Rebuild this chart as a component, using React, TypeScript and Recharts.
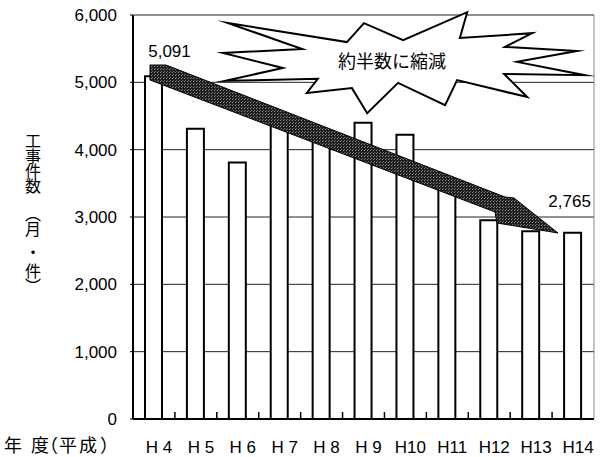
import React from 'react';
import {
  BarChart,
  Bar,
  XAxis,
  YAxis,
  CartesianGrid,
  ReferenceArea,
  LabelList,
} from 'recharts';

// Fiscal years (Heisei era)
const years = ['H 4', 'H 5', 'H 6', 'H 7', 'H 8', 'H 9', 'H10', 'H11', 'H12', 'H13', 'H14'];
// Construction works per month
const works = [5091, 4310, 3810, 4400, 4250, 4400, 4220, 3500, 2950, 2790, 2765];
const yTicks = [0, 1000, 2000, 3000, 4000, 5000, 6000];
// Years whose value is printed above the bar
const labeledYears = ['H 4', 'H14'];
// Vertical axis title, split into the runs it is set in
const yTitleRuns = ['工事件数', '（月', '・', '件）'];
const xTitleChars = ['年', '度', '（', '平', '成', '）'];
const calloutText = '約半数に縮減';

const data = years.map((year, i) => ({ year, works: works[i] }));

const W = 601;
const H = 457;
const MARGIN = { top: 15, right: 7, bottom: 0, left: 0 };
const Y_AXIS_W = 133;
const X_AXIS_H = 38;
const PLOT = {
  x: MARGIN.left + Y_AXIS_W,
  y: MARGIN.top,
  width: W - MARGIN.left - MARGIN.right - Y_AXIS_W,
  height: H - MARGIN.top - MARGIN.bottom - X_AXIS_H,
};

const NUM_FONT = '"Liberation Sans", Arial, Helvetica, sans-serif';
const CJK_FONT = '"Noto Sans CJK JP", "Noto Sans", sans-serif';

// Callout outline, as fractions of the plot area (x, y)
const BURST: [number, number][] = [
  [0.206, 0.02], [0.464, 0.067], [0.501, 0.02], [0.586, 0.062], [0.725, -0.007],
  [0.709, 0.057], [0.866, 0.045], [0.807, 0.079], [0.963, 0.089], [0.833, 0.116],
  [0.98, 0.149], [0.805, 0.146], [0.855, 0.203], [0.703, 0.161], [0.677, 0.223],
  [0.575, 0.168], [0.508, 0.243], [0.475, 0.181], [0.377, 0.193], [0.401, 0.158],
  [0.2, 0.163], [0.325, 0.131], [0.195, 0.094], [0.367, 0.084],
];

// Downward trend arrow, as fractions of the plot area
const ARROW: [number, number][] = [
  [0.0369, 0.1238], [0.0716, 0.1238], [0.8069, 0.4505], [0.8265, 0.453],
  [0.9219, 0.5396], [0.7896, 0.5149], [0.7852, 0.4876], [0.0369, 0.1609],
];

const fmt = (v: number) => Number(v).toLocaleString('en-US');

const Annotations = () => {
  const { x, y, width, height } = PLOT;
  const pt = ([fx, fy]: [number, number]) => `${x + fx * width},${y + fy * height}`;
  const band = width / years.length;
  return (
    <g>
      <defs>
        <pattern id="stipple" width="3" height="3" patternUnits="userSpaceOnUse">
          <rect width="3" height="3" fill="#1e1e1e" />
          <rect x="1" y="0" width="1" height="1" fill="#8a8a8a" />
          <rect x="2" y="2" width="1" height="1" fill="#6a6a6a" />
        </pattern>
      </defs>
      {/* frame: top and right edges */}
      <line x1={x} y1={y} x2={x + width} y2={y} stroke="#8a8a8a" strokeWidth={1} />
      <line x1={x + width} y1={y} x2={x + width} y2={y + height} stroke="#8a8a8a" strokeWidth={1} />
      {/* ticks between categories */}
      {years.slice(1).map((yr, i) => (
        <line
          key={yr}
          x1={x + (i + 1) * band}
          x2={x + (i + 1) * band}
          y1={y + height}
          y2={y + height - 7}
          stroke="#000"
          strokeWidth={1.5}
        />
      ))}
      <polygon points={ARROW.map(pt).join(' ')} fill="url(#stipple)" stroke="#000" strokeWidth={1} />
      <polygon
        points={BURST.map(pt).join(' ')}
        fill="#fff"
        stroke="#000"
        strokeWidth={2}
        strokeLinejoin="miter"
        strokeMiterlimit={12}
      />
      <text
        x={x + 0.562 * width}
        y={y + 0.111 * height}
        textAnchor="middle"
        dominantBaseline="central"
        fontFamily={CJK_FONT}
        fontSize={18}
        fill="#000"
      >
        {calloutText}
      </text>
    </g>
  );
};

const XTick = (props: any) => {
  const { x, y, payload } = props;
  return (
    <text x={x + 5} y={y + 34} textAnchor="middle" fontFamily={NUM_FONT} fontSize={17} fill="#000">
      {payload.value}
    </text>
  );
};

const XTitle = () => {
  const base = PLOT.y + PLOT.height + 32.5;
  const xs = [PLOT.x - 129, PLOT.x - 102, PLOT.x - 84, PLOT.x - 74, PLOT.x - 54, PLOT.x - 33];
  return (
    <text
      y={base}
      fontFamily={CJK_FONT}
      fontSize={18}
      fill="#000"
      style={{ fontFeatureSettings: '"halt"' }}
    >
      {xTitleChars.map((c, i) => (
        <tspan key={i} x={xs[i]}>
          {c}
        </tspan>
      ))}
    </text>
  );
};

const YTitle = () => {
  const cx = PLOT.x - 100;
  // top of each vertical run, measured down from the plot top
  const starts = [117.5, 191, 229, 247.5];
  return (
    <g>
      {yTitleRuns.map((run, i) => (
        <text
          key={i}
          x={cx}
          y={PLOT.y + starts[i]}
          fontFamily={CJK_FONT}
          fontSize={16}
          letterSpacing={-1}
          fill="#000"
          style={{ writingMode: 'vertical-rl', textOrientation: 'mixed' } as any}
        >
          {run}
        </text>
      ))}
    </g>
  );
};

const ValueLabel = (props: any) => {
  const { x, y, width, value, index } = props;
  const year = years[index];
  if (!labeledYears.includes(year)) return null;
  const first = index === 0;
  return (
    <text
      x={x + width / 2 + (first ? 16 : -3)}
      y={y + (first ? -19 : -26)}
      textAnchor="middle"
      fontFamily={NUM_FONT}
      fontSize={17}
      fill="#000"
    >
      {fmt(value)}
    </text>
  );
};

export default function App() {
  return (
    <div style={{ position: 'absolute', left: 0, top: 0, width: W, height: H, background: '#fff' }}>
      <BarChart width={W} height={H} data={data} margin={MARGIN}>
        <CartesianGrid vertical={false} stroke="#222" strokeWidth={1} />
        <XAxis
          dataKey="year"
          tickLine={false}
          tickSize={0}
          tickMargin={0}
          height={X_AXIS_H}
          axisLine={{ stroke: '#000', strokeWidth: 2 }}
          tick={<XTick />}
          interval={0}
          label={{ content: <XTitle /> }}
        />
        <YAxis
          type="number"
          domain={[0, 6000]}
          ticks={yTicks}
          interval={0}
          width={Y_AXIS_W}
          tickSize={3}
          tickMargin={13}
          tickFormatter={fmt}
          tickLine={{ stroke: '#000' }}
          axisLine={{ stroke: '#000', strokeWidth: 2 }}
          tick={{ fontSize: 17, fill: '#000', fontFamily: NUM_FONT }}
          label={{ content: <YTitle /> }}
        />
        <Bar dataKey="works" fill="#fff" stroke="#000" strokeWidth={2} barSize={17} isAnimationActive={false}>
          <LabelList dataKey="works" content={<ValueLabel />} />
        </Bar>
        <ReferenceArea
          y1={0}
          y2={6000}
          fill="none"
          stroke="none"
          ifOverflow="visible"
          zIndex={1500}
          shape={<Annotations />}
        />
      </BarChart>
    </div>
  );
}
